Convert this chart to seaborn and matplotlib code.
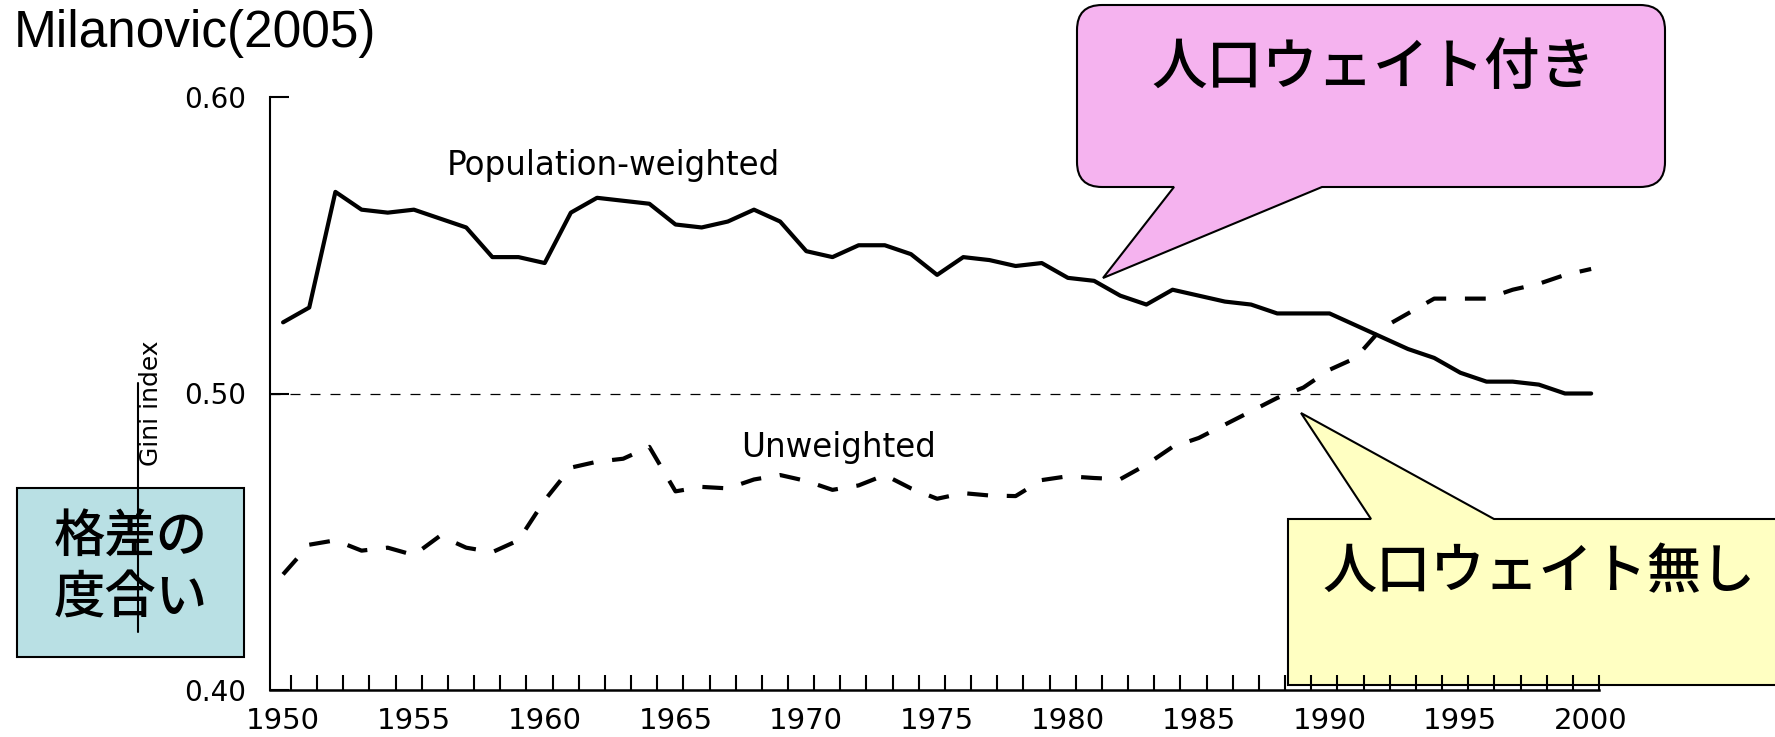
import numpy as np
import pandas as pd
import matplotlib
matplotlib.use("Agg")
import matplotlib.pyplot as plt
from matplotlib.path import Path
from matplotlib.patches import PathPatch, Rectangle
import seaborn as sns

# Gini index, Milanovic (2005)
years = list(range(1950, 2001))
pop_weighted = [0.524, 0.529, 0.568, 0.562, 0.561, 0.562, 0.559, 0.556, 0.546, 0.546,
                0.544, 0.561, 0.566, 0.565, 0.564, 0.557, 0.556, 0.558, 0.562, 0.558,
                0.548, 0.546, 0.550, 0.550, 0.547, 0.540, 0.546, 0.545, 0.543, 0.544,
                0.539, 0.538, 0.533, 0.530, 0.535, 0.533, 0.531, 0.530, 0.527, 0.527,
                0.527, 0.523, 0.519, 0.515, 0.512, 0.507, 0.504, 0.504, 0.503, 0.500,
                0.500]
unweighted = [0.439, 0.449, 0.4505, 0.447, 0.448, 0.4455, 0.452, 0.448, 0.4465, 0.4505,
              0.464, 0.475, 0.477, 0.478, 0.482, 0.467, 0.4685, 0.468, 0.471, 0.4725,
              0.4705, 0.4675, 0.469, 0.4725, 0.468, 0.4645, 0.4664, 0.4656, 0.4654, 0.4708,
              0.4721, 0.4715, 0.4711, 0.476, 0.482, 0.485, 0.4895, 0.494, 0.4985, 0.502,
              0.508, 0.512, 0.522, 0.527, 0.532, 0.532, 0.532, 0.535, 0.537, 0.540,
              0.542]
series_names = ["Population-weighted", "Unweighted"]
year_labels = list(range(1950, 2001, 5))
gini_ticks = [0.40, 0.50, 0.60]
reference_level = 0.50

df = pd.DataFrame({
    "year": years * 2,
    "gini": pop_weighted + unweighted,
    "series": [series_names[0]] * len(years) + [series_names[1]] * len(years),
})

sns.set_style("white")
plt.rcParams["font.family"] = ["DejaVu Sans"]
plt.rcParams["text.color"] = "black"
plt.rcParams["xtick.color"] = "black"
plt.rcParams["ytick.color"] = "black"

W, H = 1775, 737
fig = plt.figure(figsize=(W / 100, H / 100), dpi=100)

# background layer in pixel coordinates for the slide decorations
bg = fig.add_axes([0, 0, 1, 1], zorder=0)
bg.set_xlim(0, W)
bg.set_ylim(H, 0)
bg.axis("off")

ax = fig.add_axes([270 / W, 1 - 690 / H, (1599 - 270) / W, (690 - 97) / H], zorder=1)
ax.patch.set_alpha(0)

sns.lineplot(data=df, x="year", y="gini", style="series",
             dashes={series_names[0]: "", series_names[1]: (5, 4.5)},
             color="black", lw=3, legend=False, ax=ax)
ax.hlines(reference_level, 1949.5, 1998.3, colors="black", lw=0.9,
          linestyles=(0, (8, 8)))

ax.set_xlim(1949.5, 2000.3)
ax.set_ylim(0.40, 0.60)
ax.set_xlabel("")
ax.set_ylabel("")
for s in ["top", "right"]:
    ax.spines[s].set_visible(False)
ax.spines["left"].set_linewidth(1.5)
ax.spines["bottom"].set_linewidth(1.8)
ax.spines["left"].set_color("black")
ax.spines["bottom"].set_color("black")

ax.set_yticks(gini_ticks)
ax.set_yticklabels([f"{v:.2f}" for v in gini_ticks])
ax.set_xticks(year_labels)
ax.set_xticklabels([str(y) for y in year_labels])
ax.set_xticks(np.array(years) + 0.3, minor=True)
ax.tick_params(axis="y", direction="in", length=14, width=1.5, pad=17,
               labelsize=20, colors="black", left=True)
ax.tick_params(axis="x", which="major", length=0, pad=12, labelsize=21,
               colors="black")
ax.tick_params(axis="x", which="minor", direction="in", length=11, width=1.5,
               bottom=True, colors="black")

# series labels
bg.text(447, 175, "Population-weighted", fontsize=23.5, ha="left", va="baseline")
bg.text(741, 457, "Unweighted", fontsize=23.5, ha="left", va="baseline")
bg.text(151, 403, "Gini index", fontsize=18, rotation=90, ha="center", va="center")

bg.text(14, 47, "Milanovic(2005)", fontsize=37, family="Liberation Sans",
        ha="left", va="baseline")


def callout(x0, y0, x1, y1, r, side, bx0, bx1, tip):
    v, c = [], []
    def mv(p):
        v.append(p); c.append(Path.MOVETO)
    def ln(p):
        v.append(p); c.append(Path.LINETO)
    def cv(ctrl, p):
        v.extend([ctrl, p]); c.extend([Path.CURVE3, Path.CURVE3])
    mv((x0 + r, y0))
    if side == "top":
        ln((bx0, y0)); ln(tip); ln((bx1, y0))
    ln((x1 - r, y0))
    if r:
        cv((x1, y0), (x1, y0 + r))
    ln((x1, y1 - r))
    if r:
        cv((x1, y1), (x1 - r, y1))
    if side == "bottom":
        ln((bx1, y1)); ln(tip); ln((bx0, y1))
    ln((x0 + r, y1))
    if r:
        cv((x0, y1), (x0, y1 - r))
    ln((x0, y0 + r))
    if r:
        cv((x0, y0), (x0 + r, y0))
    v.append((x0 + r, y0)); c.append(Path.CLOSEPOLY)
    return Path(v, c)


cjk = ["Noto Sans CJK JP", "DejaVu Sans"]

bg.add_patch(PathPatch(callout(1077, 5, 1665, 187, 25, "bottom", 1174, 1322, (1103, 278)),
                       fc="#f5b3ef", ec="black", lw=1.5, zorder=1))
bg.text(1373, 68, "人口ウェイト付き", fontsize=40, family=cjk, fontweight="medium",
        ha="center", va="center", zorder=2)

bg.add_patch(PathPatch(callout(1288, 519, 1800, 685, 0, "top", 1371, 1494, (1301, 413)),
                       fc="#ffffc2", ec="black", lw=1.5, zorder=1))
bg.text(1539, 572, "人口ウェイト無し", fontsize=39, family=cjk, fontweight="medium",
        ha="center", va="center", zorder=2)

bg.add_patch(Rectangle((17, 488), 227, 169, fc="#b9e0e4", ec="black", lw=1.5, zorder=1))
bg.text(131, 537, "格差の", fontsize=37, family=cjk, fontweight="medium",
        ha="center", va="center", zorder=2)
bg.text(131, 599, "度合い", fontsize=37, family=cjk, fontweight="medium",
        ha="center", va="center", zorder=2)
bg.plot([138, 138], [383, 632], color="black", lw=1.5, zorder=3)

fig.savefig("out.png", dpi=100, facecolor="white")
